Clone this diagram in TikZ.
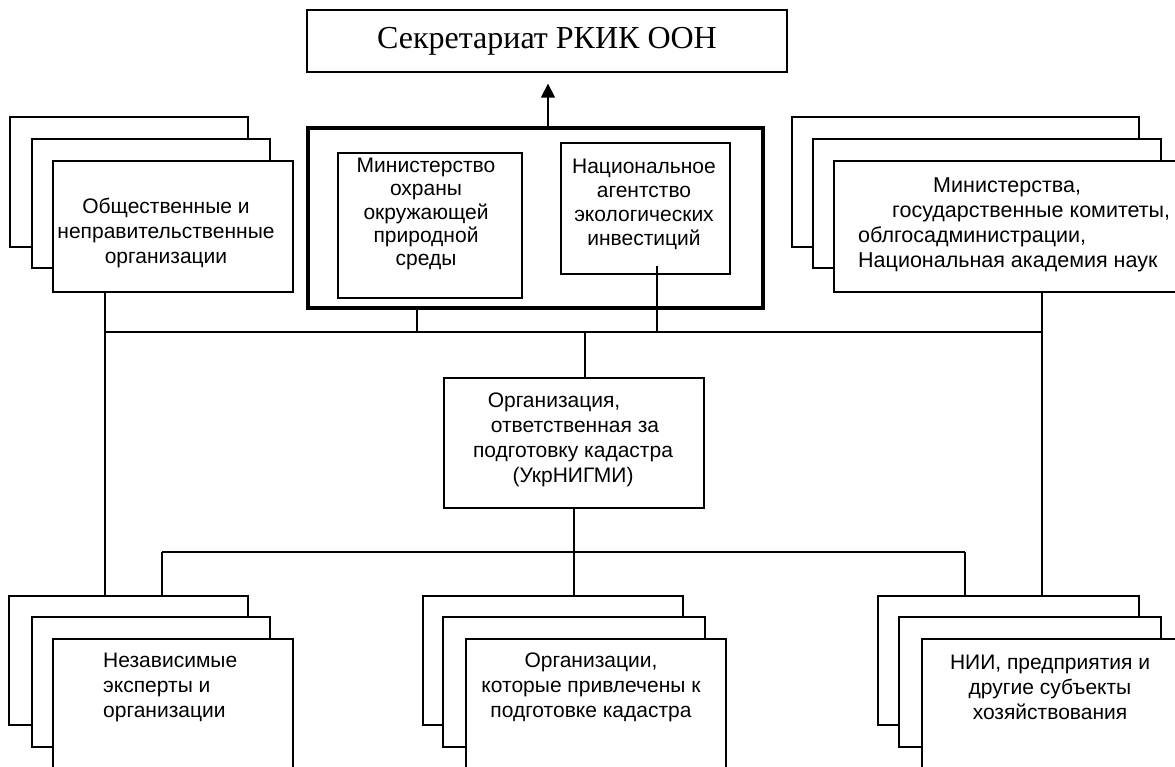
\documentclass[tikz,border=0pt]{standalone}
\usepackage{fontspec}
\newfontfamily\arialf{Liberation Sans}
\newfontfamily\tnrf{Liberation Serif}
\usetikzlibrary{arrows.meta}
\tikzset{
  box/.style={draw, line width=1.3pt, fill=white, inner sep=0pt, rectangle},
  heavybox/.style={box, line width=4pt},
  conn/.style={draw, line width=1.3pt},
  txt/.style={inner sep=0pt, align=center, font=\arialf\fontsize{21}{25}\selectfont},
}
\newcommand\bx[6][]{\node[box,#1,minimum width={#5-#3},minimum height={#6-#4}] (#2) at ({(#3+#5)/2},{(#4+#6)/2}) {};}
\begin{document}
\begin{tikzpicture}[x=1pt,y=-1pt]
\useasboundingbox (0,0) rectangle (1175,767);
\clip (0,0) rectangle (1175,767);
\fill[white] (0,0) rectangle (1175,767);

% top
\bx{top}{307}{10}{787}{72}
\node[inner sep=0pt, font=\tnrf\fontsize{32}{36}\selectfont] (toptxt) at (top.center) {Секретариат РКИК ООН};

% heavy box
\bx[heavybox]{heavy}{308}{128}{763}{308}
\bx{min}{338}{153}{522}{298}
\bx{nat}{561}{143}{730}{274}
\node[txt, font=\arialf\fontsize{21}{23.4}\selectfont] (mintxt) at (426,214) {Министерство\\охраны\\окружающей\\природной\\среды};
\node[txt, font=\arialf\fontsize{21}{24}\selectfont] (nattxt) at (644,204) {Национальное\\агентство\\экологических\\инвестиций};

% left stack
\bx{L1}{10}{117}{248}{247}
\bx{L2}{32}{139}{270}{268}
\bx{L3}{53}{161}{293}{292}
\node[txt] (Ltxt) at (166,233) {Общественные и\\неправительственные\\организации};

% right stack
\bx{R1}{792}{117}{1139}{247}
\bx{R2}{813}{139}{1161}{268}
\bx{R3}{834}{161}{1200}{292}
\node[txt, align=left, anchor=west, font=\arialf\fontsize{21.5}{25}\selectfont] (Rtxt) at (858,225) {\hspace*{75pt}Министерства,\\\hspace*{34pt}государственные комитеты,\\облгосадминистрации,\\Национальная академия наук};

% center
\bx{ctr}{444}{378}{704}{508}
\node[txt] (ctrtxt) at (573,440) {Организация,\hspace*{38pt}\\\hspace*{4pt}ответственная за\\подготовку кадастра\\(УкрНИГМИ)};

% bottom stacks
\bx{BL1}{9}{596}{248}{725}
\bx{BL2}{32}{617}{270}{747}
\bx{BL3}{53}{639}{293}{800}
\node[txt, align=left, anchor=west] (BLtxt) at (103,687) {Независимые\\эксперты и\\организации};

\bx{BM1}{423}{596}{683}{725}
\bx{BM2}{443}{617}{705}{747}
\bx{BM3}{466}{639}{726}{800}
\node[txt] (BMtxt) at (591,687) {Организации,\\которые привлечены к\\подготовке кадастра};

\bx{BR1}{878}{596}{1139}{725}
\bx{BR2}{899}{617}{1161}{747}
\bx{BR3}{922}{639}{1200}{800}
\node[txt] (BRtxt) at (1050,687) {НИИ, предприятия и\\другие субъекты\\хозяйствования};

% bus coordinates
\coordinate (busL) at (105,332);
\coordinate (busR) at (1042,332);
\coordinate (busC) at (585,332);
\coordinate (bbL) at (162,552);
\coordinate (bbR) at (965,552);
\coordinate (bbC) at (574,552);

% connectors
\draw[conn, -{Triangle[length=14pt,width=14pt]}, shorten >=11pt] (heavy.north -| 548,0) -- (top.south -| 548,0);
\draw[conn] (busL) -- (busR);
\draw[conn] (heavy.south -| 417,0) -- (busL -| 417,0);
\draw[conn] ([yshift=9pt]nat.south -| 657,0) -- (busL -| 657,0);
\draw[conn] (L3.south -| busL) -- (BL1.north -| busL);
\draw[conn] (R3.south -| busR) -- (BR1.north -| busR);
\draw[conn] (busC) -- (ctr.north -| busC);
\draw[conn] (ctr.south) -- (bbC);
\draw[conn] (bbL) -- (bbR);
\draw[conn] (bbL) -- (BL1.north -| bbL);
\draw[conn] (bbC) -- (BM1.north -| bbC);
\draw[conn] (bbR) -- (BR1.north -| bbR);
\end{tikzpicture}
\end{document}
